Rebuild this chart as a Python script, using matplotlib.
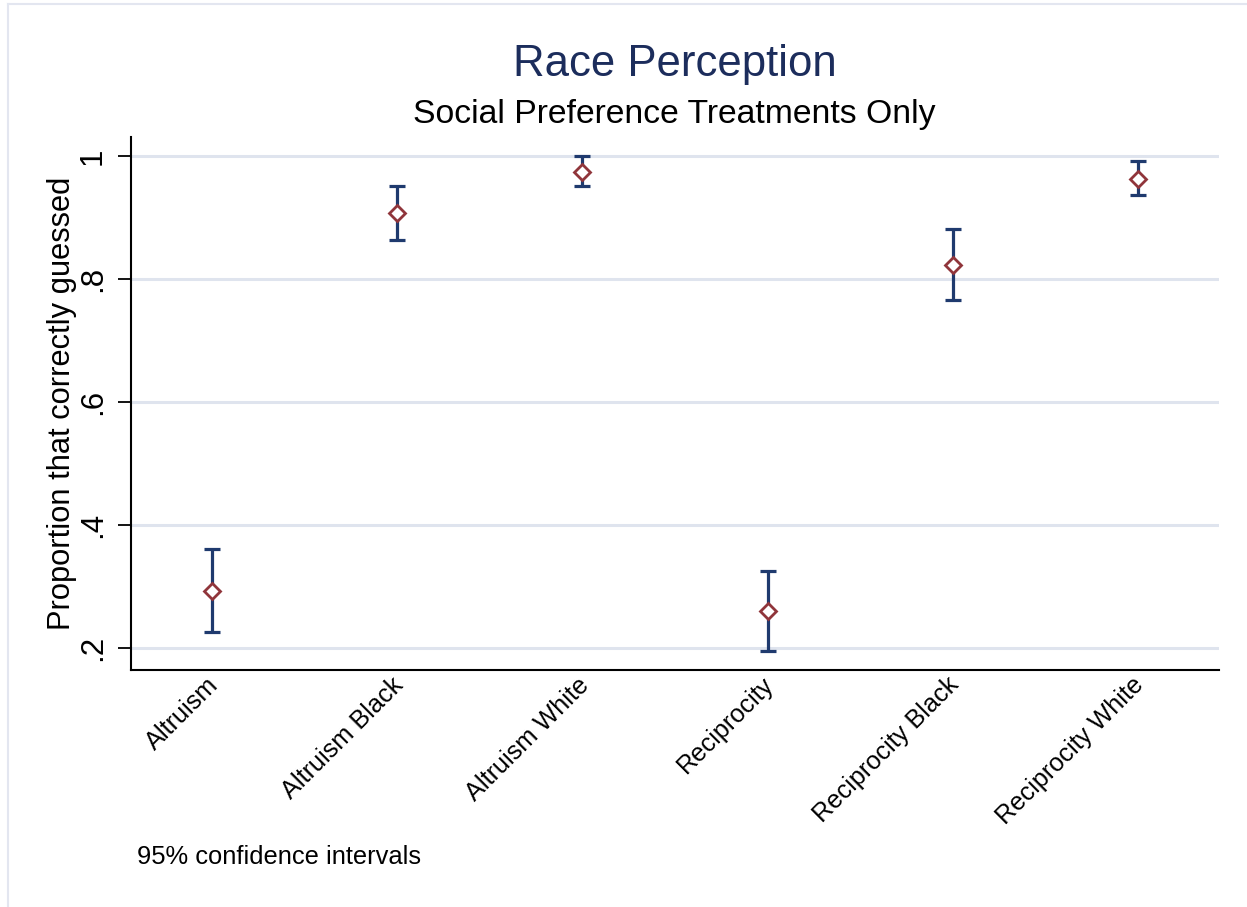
import matplotlib
matplotlib.use("Agg")
import matplotlib.pyplot as plt
from matplotlib.lines import Line2D
from matplotlib.transforms import ScaledTranslation

plt.rcParams['font.family'] = ['Liberation Sans', 'DejaVu Sans']

# Treatment groups and share of subjects who guessed the race correctly
groups = ["Altruism", "Altruism Black", "Altruism White",
          "Reciprocity", "Reciprocity Black", "Reciprocity White"]
proportion = [0.293, 0.908, 0.974, 0.260, 0.823, 0.964]
ci_low = [0.225, 0.864, 0.952, 0.194, 0.766, 0.937]
ci_high = [0.360, 0.952, 1.000, 0.324, 0.882, 0.992]
yticks = [0.2, 0.4, 0.6, 0.8, 1.0]
ytick_labels = [".2", ".4", ".6", ".8", "1"]

NAVY = "#1f3a6e"
MAROON = "#90353b"
GRID = "#dfe4ee"

fig = plt.figure(figsize=(12.47, 9.07), dpi=100)
fig.patch.set_facecolor("white")

# light outer frame along top and left edge
fig.add_artist(Line2D([8 / 1247, 1.0], [1 - 4 / 907, 1 - 4 / 907],
                      transform=fig.transFigure, color="#e3e6f0", lw=1.5))
fig.add_artist(Line2D([8 / 1247, 8 / 1247], [0.0, 1 - 4 / 907],
                      transform=fig.transFigure, color="#e3e6f0", lw=1.5))

ax = fig.add_axes([0.1048, 0.2613, 0.8725, 0.5877])

x = list(range(1, len(groups) + 1))
yerr = [[p - lo for p, lo in zip(proportion, ci_low)],
        [hi - p for p, hi in zip(proportion, ci_high)]]

ax.errorbar(x, proportion, yerr=yerr, fmt="none", ecolor=NAVY,
            elinewidth=2.3, capsize=6, capthick=2.3, zorder=3)
ax.plot(x, proportion, linestyle="none", marker="D", markersize=8.5,
        markerfacecolor="white", markeredgecolor=MAROON,
        markeredgewidth=2.0, zorder=4)

ax.set_xlim(0.559, 6.4376)
ax.set_ylim(0.1635, 1.0318)

ax.set_yticks(yticks)
ax.set_yticklabels(ytick_labels, rotation=90, va="center", fontsize=22.5)
ax.yaxis.grid(True, color=GRID, linewidth=2.2)
ax.set_axisbelow(True)
ax.tick_params(axis="y", direction="out", length=9.5, width=1.3,
               pad=7, colors="black")

ax.set_xticks(x)
ax.set_xticklabels(groups, rotation=45, ha="right", va="top",
                   rotation_mode="anchor", fontsize=18.2)
ax.tick_params(axis="x", length=0, pad=2)
shift = ScaledTranslation(-6 / 100, 0, fig.dpi_scale_trans)
for lab in ax.get_xticklabels():
    lab.set_transform(lab.get_transform() + shift)

for side in ("top", "right"):
    ax.spines[side].set_visible(False)
for side in ("left", "bottom"):
    ax.spines[side].set_linewidth(1.5)
    ax.spines[side].set_color("black")

ax.set_ylabel("Proportion that correctly guessed", fontsize=22.2)
ax.yaxis.set_label_coords(-0.0495, 0.5)

fig.text(0.541, 1 - 76 / 907, "Race Perception", ha="center",
         va="baseline", fontsize=31.5, color="#1c2d5c")
fig.text(0.541, 1 - 122.5 / 907, "Social Preference Treatments Only",
         ha="center", va="baseline", fontsize=24.3, color="black")
fig.text(137 / 1247, 1 - 857 / 907, "95% confidence intervals",
         ha="left", va="center", fontsize=18.4, color="black")

fig.savefig("out.png", dpi=100, facecolor="white")
